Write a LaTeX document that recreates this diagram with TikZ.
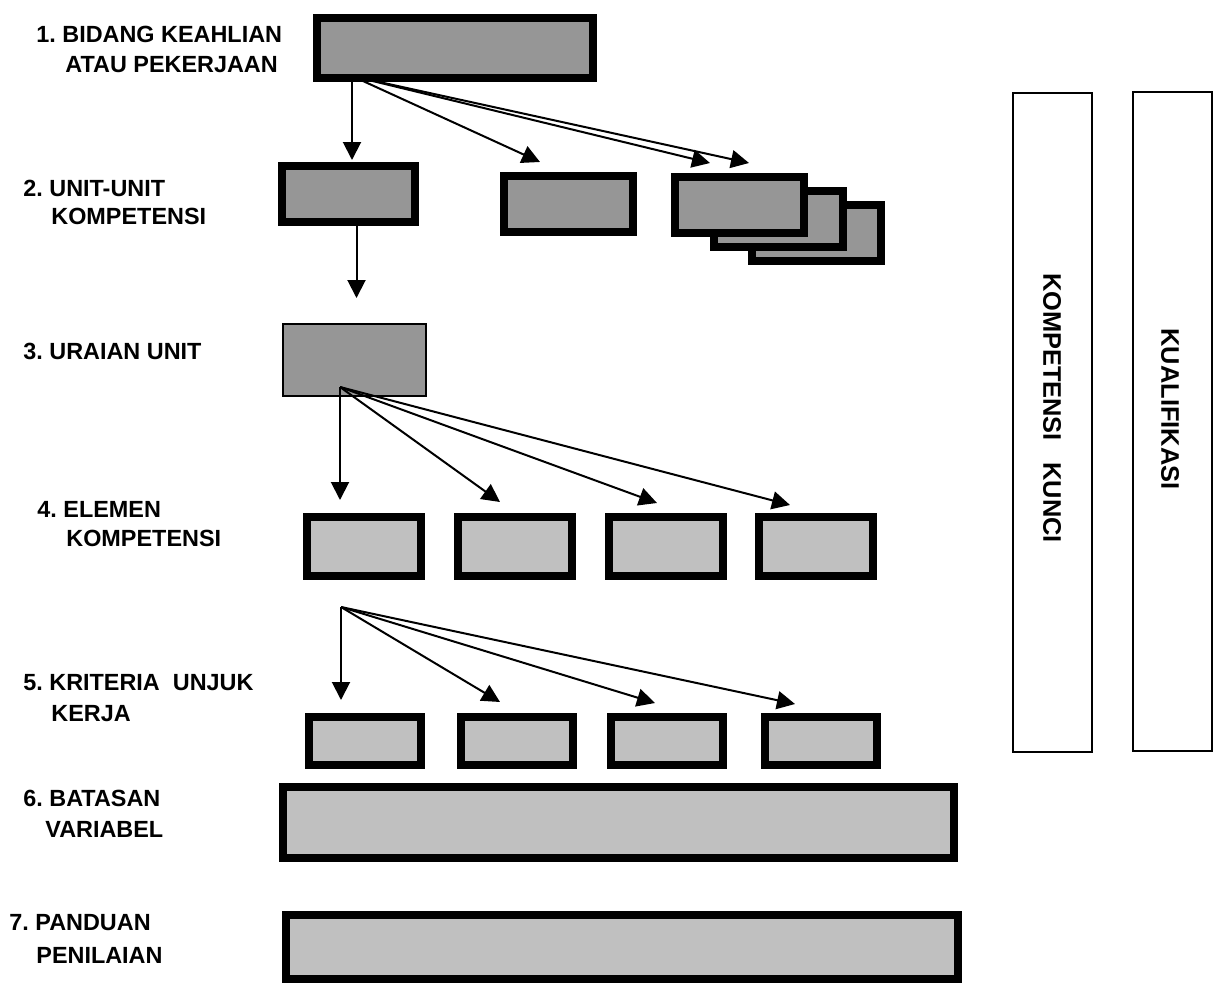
\documentclass[tikz,border=0pt]{standalone}
\usepackage{fontspec}
\setmainfont{Liberation Sans}
\usetikzlibrary{arrows.meta}
\definecolor{darkfill}{RGB}{150,150,150}
\definecolor{lightfill}{RGB}{192,192,192}
\frenchspacing

\begin{document}
\begin{tikzpicture}[x=0.5pt,y=-0.5pt,
  heavy/.style={draw,line width=4pt,inner sep=0pt},
  sidebox/.style={draw,line width=1pt,inner sep=0pt,minimum width=39.5pt,minimum height=329.5pt},
  sidetext/.style={rotate=-90,inner sep=0pt,font=\bfseries\fontsize{12.7}{15}\selectfont},
  lbl/.style={anchor=west,inner sep=0pt,font=\bfseries\fontsize{11.7}{14}\selectfont},
  arr/.style={line width=1pt,-{Triangle[length=9pt,width=9pt]}}]
  \useasboundingbox (0,0) rectangle (1221,985);

  % level labels
  \node[lbl] (l1) at (36,34) {1. BIDANG KEAHLIAN};
  \node[lbl] (l1b) at (65,65) {ATAU PEKERJAAN};
  \node[lbl] (l2) at (23,188) {2. UNIT-UNIT};
  \node[lbl] (l2b) at (51,216) {KOMPETENSI};
  \node[lbl] (l3) at (23,351) {3. URAIAN UNIT};
  \node[lbl] (l4) at (37,509) {4. ELEMEN};
  \node[lbl] (l4b) at (66,538) {KOMPETENSI};
  \node[lbl] (l5) at (23,683) {5. KRITERIA\ \ UNJUK};
  \node[lbl] (l5b) at (51,714) {KERJA};
  \node[lbl] (l6) at (23,798) {6. BATASAN};
  \node[lbl] (l6b) at (45,829) {VARIABEL};
  \node[lbl] (l7) at (9,923) {7. PANDUAN};
  \node[lbl] (l7b) at (36,955) {PENILAIAN};

  % boxes
  \node[heavy,fill=darkfill,minimum width=138pt,minimum height=30pt] (b1) at (455,48) {};
  \node[heavy,fill=darkfill,minimum width=66.5pt,minimum height=28pt] (b2a) at (348.5,194) {};
  \node[heavy,fill=darkfill,minimum width=64.5pt,minimum height=28pt] (b2b) at (568.5,204) {};
  \foreach \i/\dx/\dy in {3/77/28,2/39/14,1/0/0}
    \node[heavy,fill=darkfill,minimum width=64.5pt,minimum height=28pt] (b2c\i) at (739+\dx,204.5+\dy) {};
  \node[draw,line width=1pt,fill=darkfill,inner sep=0pt,minimum width=71.5pt,minimum height=36pt] (b3) at (354.5,360) {};
  \foreach \i/\x in {1/364,2/515,3/666,4/816}
    \node[heavy,fill=lightfill,minimum width=57pt,minimum height=29.5pt] (e\i) at (\x,546.5) {};
  \foreach \i/\x in {1/365,2/517,3/667,4/821}
    \node[heavy,fill=lightfill,minimum width=56pt,minimum height=24pt] (k\i) at (\x,741) {};
  \node[heavy,fill=lightfill,minimum width=335.5pt,minimum height=35.5pt] (b6) at (618.5,822.5) {};
  \node[heavy,fill=lightfill,minimum width=336pt,minimum height=32pt] (b7) at (622,947) {};

  \node[sidebox] (kk) at (1052.5,422.5) {};
  \node[sidetext] (kkt) at (1052,408) {KOMPETENSI\hspace{0.85em}KUNCI};
  \node[sidebox] (kq) at (1172,421) {};
  \node[sidetext] (kqt) at (1170,409) {KUALIFIKASI};

  % arrows
  \coordinate (o1) at (352,76);
  \foreach \i/\x/\y in {1/352/160,2/540/162,3/710/163,4/749/163} {
    \coordinate (t\i) at (\x,\y);
    \draw[arr] (o1) -- (t\i);
  }
  \draw[arr] ([xshift=4pt]b2a.south) -- ++(0,72);
  \coordinate (o3) at (340,387);
  \foreach \i/\x/\y in {1/340/500,2/500/502,3/657/503,4/790/505} {
    \coordinate (u\i) at (\x,\y);
    \draw[arr] (o3) -- (u\i);
  }
  \coordinate (o5) at (341,607);
  \foreach \i/\x/\y in {1/341/700,2/500/702,3/655/703,4/795/704} {
    \coordinate (v\i) at (\x,\y);
    \draw[arr] (o5) -- (v\i);
  }
\end{tikzpicture}
\end{document}
